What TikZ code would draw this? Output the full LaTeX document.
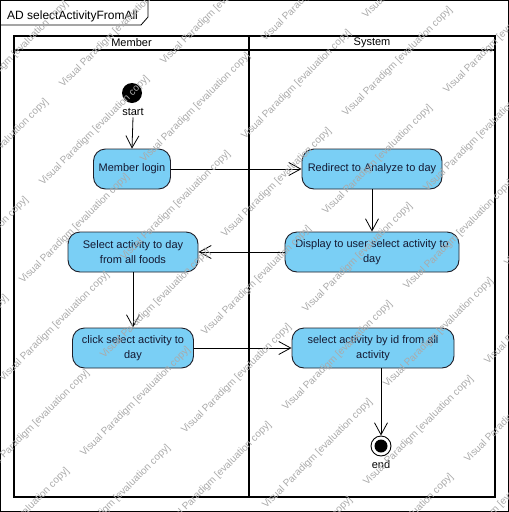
\documentclass[tikz,border=0pt]{standalone}
\usepackage{fontspec}
\setmainfont{Liberation Sans}
\usetikzlibrary{arrows.meta}
\definecolor{actfill}{RGB}{122,207,245}
\definecolor{actline}{RGB}{30,30,40}
\definecolor{acttext}{RGB}{20,25,50}
\definecolor{wmgray}{RGB}{170,170,170}
\begin{document}
\begin{tikzpicture}[x=1pt,y=-1pt,
  action/.style={draw=actline, fill=actfill, rounded corners=12pt, minimum height=40pt,
    inner sep=2pt, align=center, text=acttext, font=\fontsize{11}{15}\selectfont, line width=0.9pt},
  flow/.style={draw=black, line width=0.8pt, -{Straight Barb[length=12pt,width=13pt]}},
  lane/.style={line width=1.6pt},
  lbl/.style={font=\fontsize{11}{13}\selectfont},
  wm/.style={text=wmgray, font=\fontsize{10}{12}\selectfont, rotate=45, anchor=base west, inner sep=0pt}
]
\useasboundingbox (0,0) rectangle (509,512);

% diagram frame with its name tab
\draw[line width=0.8pt] (0.5,0.5) rectangle (508,511);
\draw[line width=0.8pt] (0.5,25) -- (141,25) -- (148,17) -- (148,0.5);
\node[anchor=base west, font=\fontsize{12}{14}\selectfont, inner sep=0pt] (title) at (7,19) {AD selectActivityFromAll};

% swimlanes
\draw[lane] (14,36) rectangle (495,497);
\draw[lane] (14,50) -- (495,50);
\draw[lane] (249,36) -- (249,497);
\node[lbl] (memberhdr) at (131.5,43) {Member};
\node[lbl] (systemhdr) at (372,43) {System};

% initial node
\node[circle, fill=black, minimum size=20pt, inner sep=0pt] (start) at (132,93) {};
\node[lbl, anchor=base, inner sep=2pt] (startlbl) at (133,115) {start};

% actions
\node[action, minimum width=77pt]  (login)    at (132,169) {Member login};
\node[action, minimum width=140pt] (redirect) at (372,169) {Redirect to Analyze to day};
\node[action, minimum width=174pt] (display)  at (372,252) {Display to user select activity to\\day};
\node[action, minimum width=130pt] (selall)   at (133,252) {Select activity to day\\from all foods};
\node[action, minimum width=121pt] (click)    at (133,348) {click select activity to\\day};
\node[action, minimum width=162pt] (selid)    at (373,348) {select activity by id from all\\activity};

% final node
\node[circle, draw=black, line width=0.9pt, fill=white, minimum size=20pt, inner sep=0pt] (finish) at (381,446) {};
\node[circle, fill=black, minimum size=13pt, inner sep=0pt] (finishcore) at (finish.center) {};
\node[lbl, anchor=base] (finishlbl) at (381,468) {end};

% control flows
\draw[flow] (startlbl.south) -- (login.north);
\draw[flow] (login.east) -- (redirect.west);
\draw[flow] (redirect.south) -- (display.north);
\draw[flow] (display.west) -- (selall.east);
\draw[flow] (selall.south) -- (click.north);
\draw[flow] (click.east) -- (selid.west);
\draw[flow] (finish |- selid.south) -- (finish.north);

% tiled evaluation watermark
\begin{scope}
  \clip (0,0) rectangle (509,512);
  \foreach \k in {-2,...,11}{
    \foreach \m in {-3,...,7}{
      \pgfmathsetmacro\wx{63-20*\k+121*\m}
      \pgfmathsetmacro\wy{151+78*\k-\wx}
      \node[wm] at (\wx,\wy) {Visual Paradigm [evaluation copy]};
    }
  }
\end{scope}
\end{tikzpicture}
\end{document}
